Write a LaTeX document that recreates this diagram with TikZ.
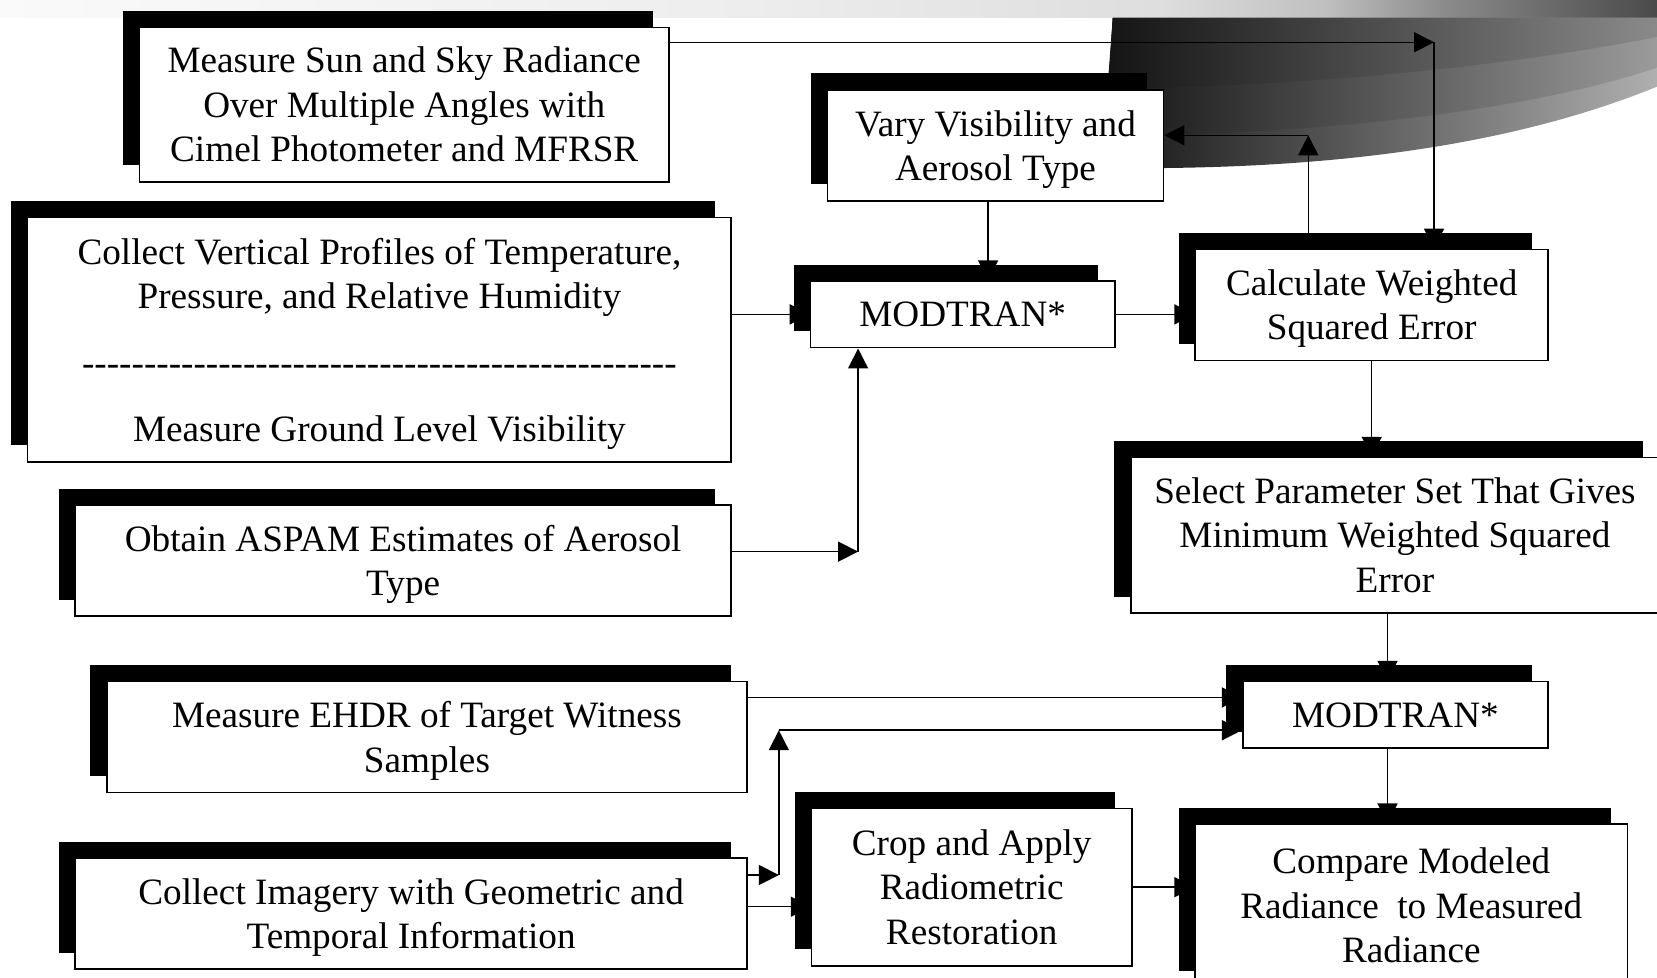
\documentclass[tikz,border=0pt]{standalone}
\usepackage{fontspec}
\setmainfont{Liberation Serif}
\usetikzlibrary{arrows.meta,shadows,calc}
\pgfdeclarehorizontalshading{topband}{100bp}{color(0bp)=(black!2); color(25bp)=(black!2); color(47.5bp)=(black!7); color(60bp)=(black!13); color(65bp)=(black!25); color(68.7bp)=(black!46); color(75bp)=(black!71); color(100bp)=(black!71)}
\begin{document}
\begin{tikzpicture}[x=0.5284pt,y=-0.5284pt,
  box/.style={draw=black, line width=0.8pt, fill=white, inner sep=0pt, align=center,
    font=\fontsize{18.6pt}{22.2pt}\selectfont,
    general shadow={fill=black, shadow xshift=-8.2pt, shadow yshift=8.2pt}},
  sz/.style 2 args={minimum width=#1*0.5284pt, minimum height=#2*0.5284pt},
  arr/.style={line width=0.75pt, -{Triangle[length=10pt,width=10pt]}}]
\useasboundingbox (0,0) rectangle (1568,925);
\clip (0,0) rectangle (1568,925);
% background decoration
\shade[shading=topband] (0,0) rectangle (1568,17);
\shade[left color=black!92, right color=black!30]
  (1053,17) -- (1580,17) -- (1580,78) -- (1568,82) .. controls (1450,130) and (1300,157) .. (1101,159) -- (1044,159) -- cycle;
\shade[left color=black!92, right color=black!38]
  (1053,17) -- (1580,17) -- (1580,61) -- (1568,64) .. controls (1460,100) and (1300,122) .. (1101,128) -- (1046,128) -- cycle;
\shade[left color=black!92, right color=black!45]
  (1053,17) -- (1580,17) -- (1580,33) -- (1568,35) .. controls (1450,58) and (1280,79) .. (1087,83) -- (1048,83) -- cycle;
% boxes
\node[box, sz={501}{146}] (A) at (382.5,99) {Measure Sun and Sky Radiance\\Over Multiple Angles with\\Cimel Photometer and MFRSR};
\node[box, sz={666}{231}] (B) at (359,321.5) {Collect Vertical Profiles of Temperature,\\Pressure, and Relative Humidity\\[11pt]-{}-{}-{}-{}-{}-{}-{}-{}-{}-{}-{}-{}-{}-{}-{}-{}-{}-{}-{}-{}-{}-{}-{}-{}-{}-{}-{}-{}-{}-{}-{}-{}-{}-{}-{}-{}-{}-{}-{}-{}-{}-{}-{}-{}-{}-{}-{}-{}\\[11pt]\smash{Measure Ground Level Visibility}};
\node[box, sz={621}{105}] (C) at (381.5,530.5) {Obtain ASPAM Estimates of Aerosol\\\smash{Type}};
\node[box, sz={606}{105}] (D) at (404,697.5) {Measure EHDR of Target Witness\\\smash{Samples}};
\node[box, sz={636}{105}] (E) at (389,864.5) {Collect Imagery with Geometric and\\\smash{Temporal Information}};
\node[box, sz={318}{105}] (F) at (942,137.5) {Vary Visibility and\\\smash{Aerosol Type}};
\node[box, sz={288}{63}] (G) at (911,297.5) {MODTRAN*};
\node[box, sz={334}{105}] (H) at (1298,288.5) {Calculate Weighted\\\smash{Squared Error}};
\node[box, sz={500}{147}] (I) at (1320,506.5) {Select Parameter Set That Gives\\Minimum Weighted Squared\\Error};
\node[box, sz={289}{63}] (J) at (1320.5,676.5) {MODTRAN*};
\node[box, sz={303}{149}] (K) at (919.5,839.5) {Crop and Apply\\Radiometric\\Restoration};
\node[box, sz={409}{154}] (L) at (1335.5,857) {Compare Modeled\\Radiance\ \ to Measured\\Radiance};
% helper coordinates
\coordinate (c1) at (1357,40);
\coordinate (c2) at (1238,128);
\coordinate (x3) at (935,0);
\coordinate (c6) at (812,522);
\coordinate (x8) at (1313,0);
\coordinate (y9) at (0,660);
\coordinate (c10a) at (737,828);
\coordinate (c10b) at (737,691);
\coordinate (y11) at (0,858);
% connectors
\draw[arr] (A.east |- c1) -- (c1);
\draw[arr] (c1) -- (c1 |- H.north);
\draw[arr] (c2 |- H.north) -- (c2);
\draw[arr] (c2) -- (F.east |- c2);
\draw[arr] (F.south -| x3) -- (G.north -| x3);
\draw[arr] (B.east |- G.west) -- (G.west);
\draw[arr] (G.east) -- (H.west |- G.east);
\draw[arr] (C.east |- c6) -- (c6);
\draw[arr] (c6) -- (G.south -| c6);
\draw[arr] (H.south) -- (I.north -| H.south);
\draw[arr] (I.south -| x8) -- (J.north -| x8);
\draw[arr] (D.east |- y9) -- (J.west |- y9);
\draw[arr] (E.east |- c10a) -- (c10a);
\draw[arr] (c10a) -- (c10b);
\draw[arr] (c10b) -- (J.west |- c10b);
\draw[arr] (E.east |- y11) -- (K.west |- y11);
\draw[arr] (J.south -| x8) -- (L.north -| x8);
\draw[arr] (K.east) -- (L.west |- K.east);
\end{tikzpicture}
\end{document}
